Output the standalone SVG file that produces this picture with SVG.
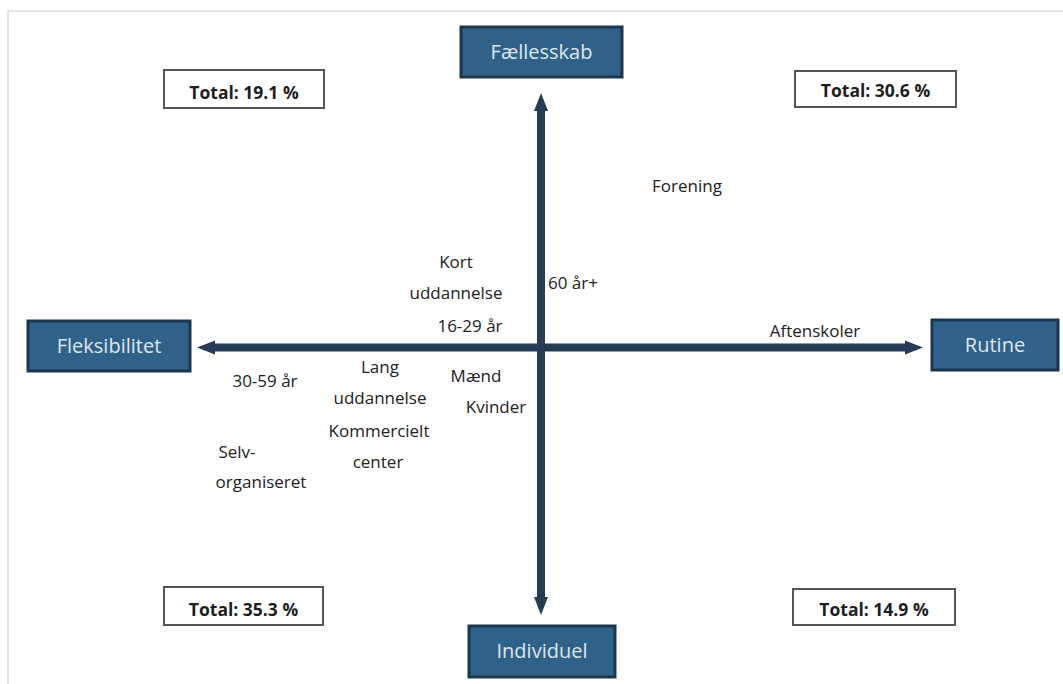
<svg xmlns="http://www.w3.org/2000/svg" width="1063" height="684" viewBox="0 0 1063 684">
<style>
.bg{fill:#ffffff}
.frame{stroke:#e4e4e4;stroke-width:2;fill:none}
.axis{stroke:#243d55;stroke-width:8;fill:none}
.node rect{fill:#2f6189;stroke:#1d3650;stroke-width:3}
.node text{fill:#dde8f1;font-family:"Open Sans","Liberation Sans",sans-serif;font-size:20px;text-anchor:middle}
.tot rect{fill:#ffffff;stroke:#555555;stroke-width:2}
.tot text{fill:#1e1e1e;font-family:"Open Sans","Liberation Sans",sans-serif;font-size:17.5px;font-weight:bold;text-anchor:middle}
.lbl{fill:#222222;font-family:"Open Sans","Liberation Sans",sans-serif;font-size:17px;text-anchor:middle}
</style>
<defs>
<marker id="ah" markerUnits="userSpaceOnUse" markerWidth="20" markerHeight="20" refX="6" refY="10" orient="auto-start-reverse" viewBox="0 0 20 20">
<path d="M0,3 L18,10 L0,17 Z" fill="#243d55"/>
</marker>
</defs>
<rect class="bg" x="0" y="0" width="1063" height="684"/>
<path class="frame" d="M8,684 V11 H1063"/>
<g id="connectors">
<line class="axis" x1="209" y1="347.5" x2="911" y2="347.5" marker-start="url(#ah)" marker-end="url(#ah)"/>
<line class="axis" x1="541" y1="105" x2="541" y2="603" marker-start="url(#ah)" marker-end="url(#ah)"/>
</g>
<g id="node-faellesskab" class="node"><rect x="461" y="27" width="161" height="50"/><text x="541.5" y="59">Fællesskab</text></g>
<g id="node-fleksibilitet" class="node"><rect x="28" y="321" width="162" height="50"/><text x="109" y="353">Fleksibilitet</text></g>
<g id="node-rutine" class="node"><rect x="932" y="320" width="126" height="50"/><text x="995" y="352">Rutine</text></g>
<g id="node-individuel" class="node"><rect x="469" y="626" width="146" height="51"/><text x="542" y="658">Individuel</text></g>
<g id="total-191" class="tot"><rect x="164" y="70" width="160" height="38"/><text x="244" y="99">Total: 19.1 %</text></g>
<g id="total-306" class="tot"><rect x="795" y="71" width="161" height="36"/><text x="875.5" y="97">Total: 30.6 %</text></g>
<g id="total-353" class="tot"><rect x="164" y="587" width="159" height="38"/><text x="243.5" y="616">Total: 35.3 %</text></g>
<g id="total-149" class="tot"><rect x="793" y="589" width="162" height="36"/><text x="874" y="616">Total: 14.9 %</text></g>
<g id="labels">
<text class="lbl" x="687" y="192">Forening</text>
<text class="lbl" x="456" y="268">Kort</text>
<text class="lbl" x="456" y="299">uddannelse</text>
<text class="lbl" x="470" y="332">16-29 år</text>
<text class="lbl" x="548" y="289" style="text-anchor:start">60 år+</text>
<text class="lbl" x="815" y="337">Aftenskoler</text>
<text class="lbl" x="265" y="387">30-59 år</text>
<text class="lbl" x="380" y="373">Lang</text>
<text class="lbl" x="380" y="404">uddannelse</text>
<text class="lbl" x="379" y="437">Kommercielt</text>
<text class="lbl" x="378" y="468">center</text>
<text class="lbl" x="476" y="382">Mænd</text>
<text class="lbl" x="496" y="413">Kvinder</text>
<text class="lbl" x="237" y="458">Selv-</text>
<text class="lbl" x="261" y="488">organiseret</text>
</g>
</svg>
